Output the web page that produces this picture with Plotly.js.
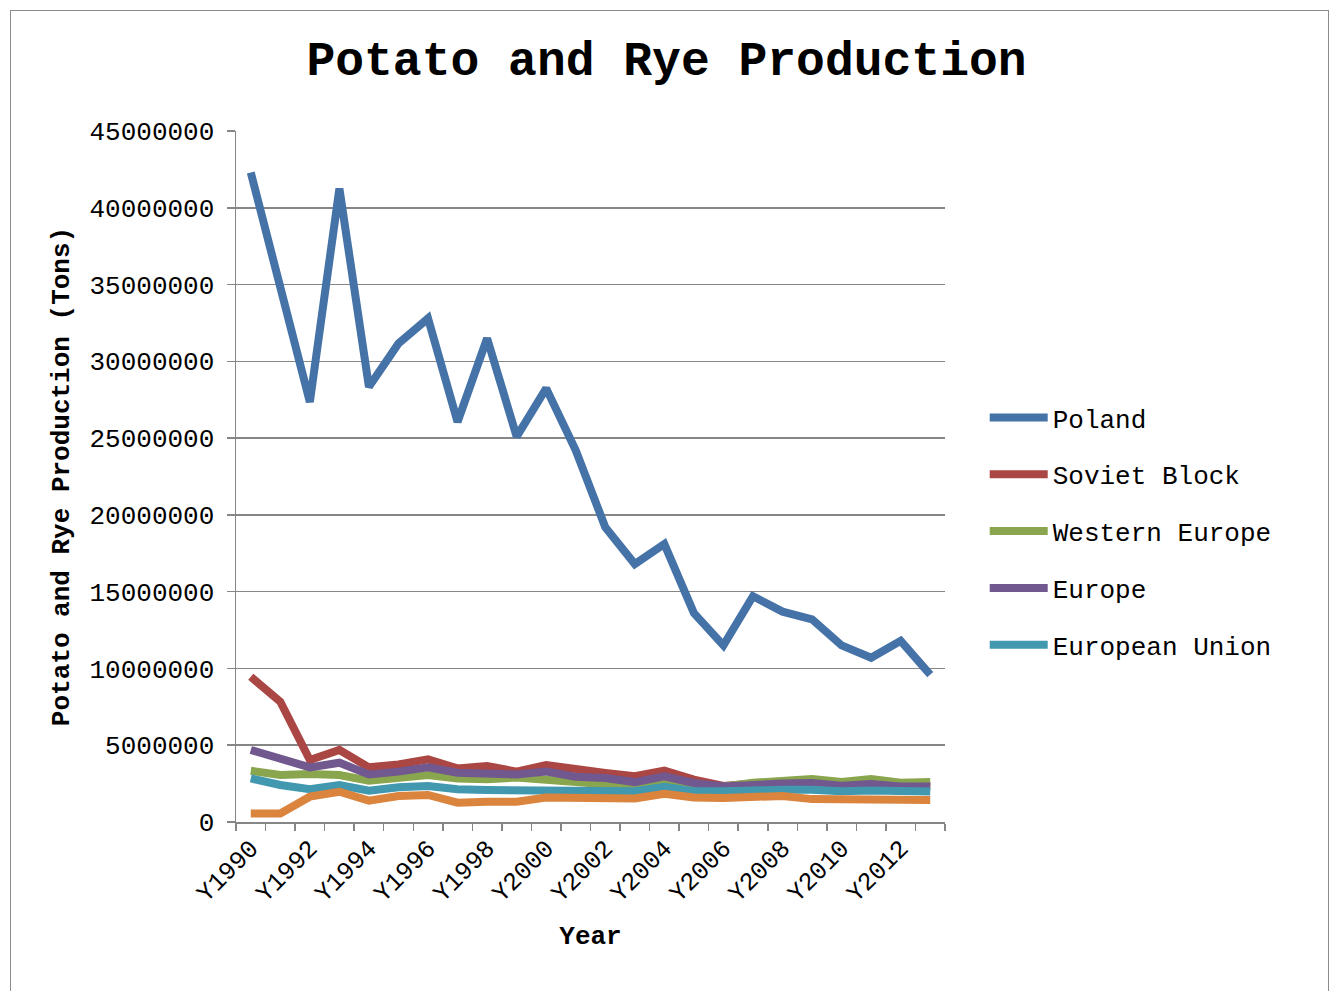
<!DOCTYPE html>
<html>
<head>
<meta charset="utf-8">
<script src="https://cdn.plot.ly/plotly-3.0.1.min.js"></script>
<style>
html,body{margin:0;padding:0;background:#fff;}
#wrap{position:relative;width:1333px;height:991px;}
#chart{width:1333px;height:991px;}
#frame{position:absolute;left:10px;top:10px;width:1317px;height:990px;border:1px solid #8c8c8c;pointer-events:none;}
</style>
</head>
<body>
<div id="wrap"><div id="chart"></div><div id="frame"></div></div>
<script>
const years = ["Y1990","Y1991","Y1992","Y1993","Y1994","Y1995","Y1996","Y1997","Y1998","Y1999","Y2000","Y2001","Y2002","Y2003","Y2004","Y2005","Y2006","Y2007","Y2008","Y2009","Y2010","Y2011","Y2012","Y2013"];

const poland = [42300000,35000000,27350000,41250000,28340000,31160000,32800000,26060000,31500000,25100000,28240000,24200000,19200000,16800000,18100000,13600000,11500000,14700000,13700000,13200000,11500000,10700000,11800000,9600000];
const sovietBlock = [9460000,7830000,4040000,4690000,3560000,3750000,4080000,3490000,3650000,3280000,3710000,3390000,3200000,2980000,3350000,2760000,2350000,2500000,2550000,2500000,2450000,2450000,2400000,2350000];
const westernEurope = [3340000,3060000,3120000,3060000,2690000,2840000,3060000,2840000,2780000,2900000,2780000,2630000,2450000,2150000,2470000,2300000,2300000,2550000,2650000,2800000,2600000,2800000,2550000,2600000];
const europe = [4690000,4150000,3560000,3860000,3100000,3280000,3560000,3210000,3170000,3100000,3280000,2950000,2860000,2600000,2980000,2540000,2320000,2470000,2500000,2540000,2360000,2480000,2320000,2320000];
const europeanUnion = [2840000,2410000,2130000,2410000,2040000,2260000,2340000,2130000,2080000,2080000,2130000,2080000,2100000,2000000,2300000,2000000,2000000,2100000,2100000,2100000,2000000,2050000,1950000,1980000];
const other = [560000,560000,1650000,1970000,1390000,1690000,1760000,1260000,1320000,1320000,1600000,1580000,1560000,1530000,1830000,1600000,1560000,1660000,1700000,1490000,1490000,1560000,1430000,1430000];

const seriesNames = ["Poland","Soviet Block","Western Europe","Europe","European Union",""];
const seriesValues = [poland, sovietBlock, westernEurope, europe, europeanUnion, other];
const seriesColors = ["#4572A7","#AA4643","#89A54E","#71588F","#4198AF","#DB843D"];
const tickLabels = years.map((y,i)=> i%2===0 ? y : "");

const font = "'Courier New', 'Nimbus Mono PS', 'Nimbus Mono L', FreeMono, 'Liberation Mono', monospace";

const traces = seriesValues.map((vals,i)=>({
  x: years, y: vals, type: "scatter", mode: "lines",
  name: seriesNames[i],
  legendgroup: "g"+i,
  showlegend: seriesNames[i] !== "",
  line: {color: seriesColors[i], width: 8},
  hoverinfo: "x+y"
}));

const layout = {
  width: 1333, height: 991,
  paper_bgcolor: "#fff", plot_bgcolor: "#fff",
  margin: {l: 236, r: 388, t: 131, b: 169},
  font: {family: font, size: 26, color: "#000"},
  title: {text: "<b>Potato and Rye Production</b>", font: {family: font, size: 48, color: "#000"},
          x: 0.5, xref: "container", xanchor: "center", y: 1 - 58/991, yref: "container", yanchor: "middle"},
  xaxis: {
    type: "category",
    tickvals: years, ticktext: tickLabels,
    tickangle: -45,
    tickson: "boundaries",
    ticks: "outside", ticklen: 7, tickcolor: "#868686", tickwidth: 1.5,
    showline: true, linecolor: "#868686", linewidth: 1.5,
    showgrid: false, zeroline: false,
    tickfont: {family: font, size: 25},
    title: {text: "<b>Year</b>", font: {family: font, size: 26}, standoff: 18},
    range: [-0.5, 23.5]
  },
  yaxis: {
    range: [0, 45000000], dtick: 5000000, tick0: 0,
    tickformat: "d",
    ticks: "outside", ticklen: 8, tickcolor: "#868686", tickwidth: 1.5,
    ticklabelstandoff: 7,
    showline: true, linecolor: "#868686", linewidth: 1.5,
    showgrid: true, gridcolor: "#868686", gridwidth: 1.5,
    zeroline: false,
    tickfont: {family: font, size: 26},
    title: {text: "<b>Potato and Rye Production (Tons)</b>", font: {family: font, size: 26}, standoff: 12}
  },
  legend: {
    x: 1.056, xanchor: "left", y: 0.421, yanchor: "middle",
    font: {family: font, size: 26},
    itemwidth: 58, tracegroupgap: 20,
    bgcolor: "rgba(0,0,0,0)"
  },
  showlegend: true
};

Plotly.newPlot("chart", traces, layout, {displayModeBar: false, staticPlot: true});
</script>
</body>
</html>
